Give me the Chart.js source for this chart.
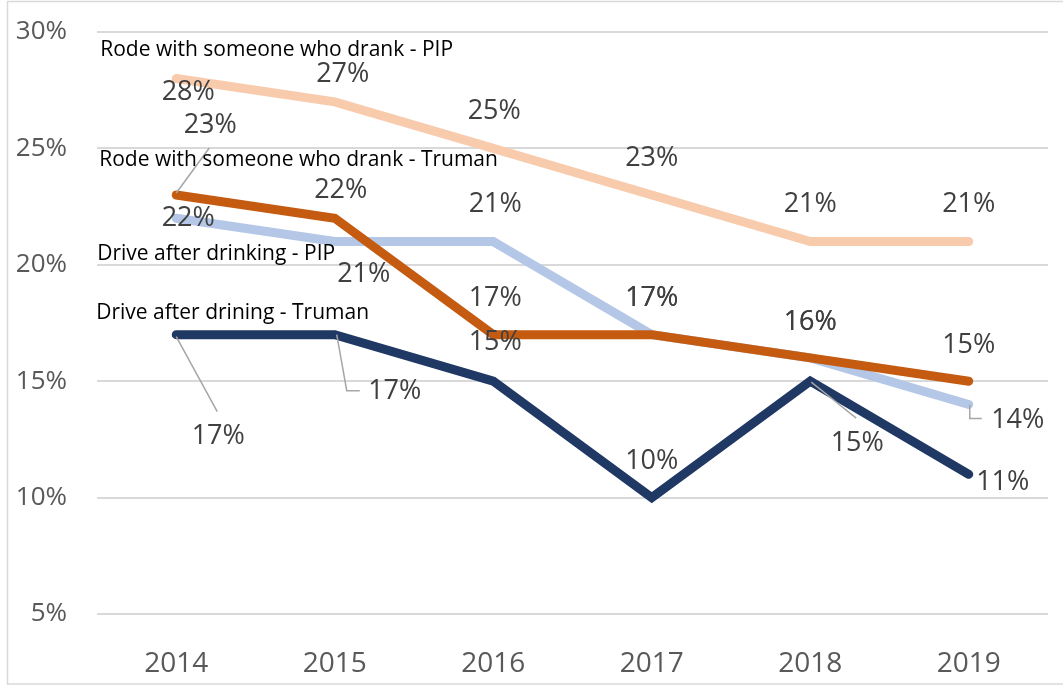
<!DOCTYPE html>
<html>
<head>
<meta charset="utf-8">
<script src="https://cdn.jsdelivr.net/npm/chart.js@4"></script>
<style>
  html, body { margin: 0; padding: 0; background: #fff; }
  #wrap { width: 1063px; height: 685px; }
</style>
</head>
<body>
<div id="wrap"><canvas id="drinkChart" width="1063" height="685"></canvas></div>
<script>
const years = ["2014", "2015", "2016", "2017", "2018", "2019"];
const rodePip = [28, 27, 25, 23, 21, 21];
const rodeTruman = [23, 22, 17, 17, 16, 15];
const drivePip = [22, 21, 21, 17, 16, 14];
const driveTruman = [17, 17, 15, 10, 15, 11];
const yTicks = [5, 10, 15, 20, 25, 30];

// where each value label sits relative to its point, plus optional leader line
const rodePipLabels = [
  { dx: 12, dy: 14 }, { dx: 8, dy: -28 }, { dx: 1, dy: -37 },
  { dx: 0, dy: -37 }, { dx: 0, dy: -37 }, { dx: 0, dy: -37 }
];
const rodeTrumanLabels = [
  { dx: 34, dy: -70, leader: [[0, -2], [33, -47]] }, { dx: 6, dy: -28 }, { dx: 2, dy: -36 },
  { dx: 0, dy: -36 }, { dx: 0, dy: -36 }, { dx: 0, dy: -36 }
];
const drivePipLabels = [
  { dx: 12, dy: 0 }, { dx: 29, dy: 33 }, { dx: 2, dy: -37 },
  { dx: 0, dy: -36 }, { dx: 0, dy: -36 }, { dx: 49, dy: 16, leader: [[1, 0], [1, 14], [13, 14]] }
];
const driveTrumanLabels = [
  { dx: 42, dy: 102, leader: [[0, 2], [41, 77]] },
  { dx: 60, dy: 57, leader: [[2, 0], [12, 56], [25, 56]] },
  { dx: 2, dy: -39 }, { dx: 0, dy: -36 },
  { dx: 47, dy: 62, leader: [[1, 1], [46, 37]] }, { dx: 34, dy: 8 }
];

const valueFont = '27px "Open Sans"';
const nameFont = '21px "Open Sans"';

const frame = {
  id: 'frame',
  beforeDraw(chart) {
    const ctx = chart.ctx;
    ctx.save();
    ctx.fillStyle = '#fff';
    ctx.fillRect(0, 0, chart.width, chart.height);
    ctx.strokeStyle = '#D9D9D9';
    ctx.lineWidth = 1.5;
    ctx.strokeRect(7.5, 1.5, chart.width + 20, chart.height - 2.5);
    ctx.restore();
  }
};

const pointLabels = {
  id: 'pointLabels',
  afterDatasetsDraw(chart) {
    const ctx = chart.ctx;
    ctx.save();
    chart.data.datasets.forEach((ds, i) => {
      const meta = chart.getDatasetMeta(i);
      meta.data.forEach((pt, j) => {
        const lab = ds.labelPos[j];
        if (lab.leader) {
          ctx.strokeStyle = '#A6A6A6';
          ctx.lineWidth = 1.5;
          ctx.beginPath();
          lab.leader.forEach(([lx, ly], k) => {
            if (k === 0) ctx.moveTo(pt.x + lx, pt.y + ly);
            else ctx.lineTo(pt.x + lx, pt.y + ly);
          });
          ctx.stroke();
        }
        ctx.font = valueFont;
        ctx.fillStyle = '#404040';
        ctx.textAlign = 'center';
        ctx.textBaseline = 'middle';
        ctx.fillText(ds.data[j] + '%', pt.x + lab.dx, pt.y + lab.dy);
      });
      // series name next to the first point
      const first = meta.data[0];
      ctx.font = nameFont;
      ctx.fillStyle = '#000';
      ctx.textAlign = 'left';
      ctx.textBaseline = 'middle';
      ctx.fillText(ds.label, first.x + ds.nameDx, first.y + ds.nameDy);
    });
    ctx.restore();
  }
};

const lineStyle = {
  borderWidth: 9,
  pointRadius: 0,
  tension: 0,
  fill: false,
  borderCapStyle: 'round',
  borderJoinStyle: 'miter'
};

new Chart(document.getElementById('drinkChart'), {
  type: 'line',
  data: {
    labels: years,
    datasets: [
      Object.assign({
        label: 'Rode with someone who drank - PIP', data: rodePip,
        borderColor: '#F8CBAD', labelPos: rodePipLabels, nameDx: -76, nameDy: -29, order: 2
      }, lineStyle),
      Object.assign({
        label: 'Rode with someone who drank - Truman', data: rodeTruman,
        borderColor: '#C55A11', labelPos: rodeTrumanLabels, nameDx: -77, nameDy: -35, order: 1
      }, lineStyle),
      Object.assign({
        label: 'Drive after drinking - PIP', data: drivePip,
        borderColor: '#B4C7E7', labelPos: drivePipLabels, nameDx: -79, nameDy: 36, order: 3
      }, lineStyle),
      Object.assign({
        label: 'Drive after drining - Truman', data: driveTruman,
        borderColor: '#203864', labelPos: driveTrumanLabels, nameDx: -80, nameDy: -22, order: 4
      }, lineStyle)
    ]
  },
  options: {
    responsive: false,
    animation: false,
    layout: { padding: { top: 32, right: 15, left: 0, bottom: 0 } },
    plugins: {
      legend: { display: false },
      tooltip: { enabled: false }
    },
    scales: {
      x: {
        offset: true,
        grid: { display: false },
        border: { display: false },
        ticks: {
          color: '#595959',
          font: { family: 'Open Sans', size: 28 },
          padding: 25
        },
        afterFit(scale) { scale.height = 71; }
      },
      y: {
        min: 5,
        max: 30,
        afterBuildTicks(scale) { scale.ticks = yTicks.map(v => ({ value: v })); },
        grid: { color: '#D9D9D9', lineWidth: 2, drawTicks: false },
        border: { display: false },
        ticks: {
          color: '#595959',
          font: { family: 'Open Sans', size: 26 },
          padding: 30,
          callback: v => v + '%'
        },
        afterFit(scale) {
          scale.width = 97;
          // tick padding should not push the plot area down
          scale.paddingTop = 0;
          scale.paddingBottom = 0;
        }
      }
    }
  },
  plugins: [frame, pointLabels]
});
</script>
</body>
</html>
